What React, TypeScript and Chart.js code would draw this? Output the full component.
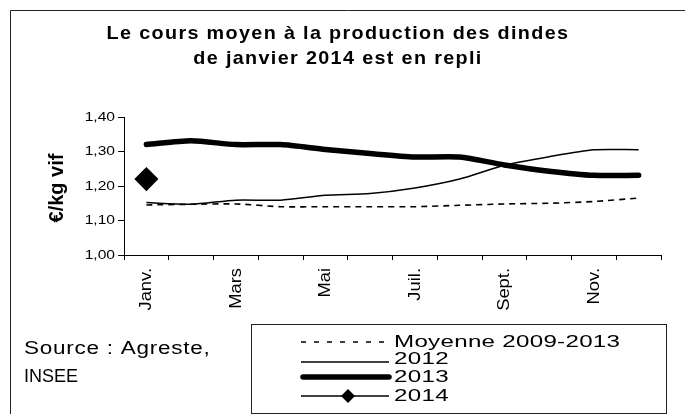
import React, { useEffect, useRef } from "react";
import { Chart, registerables } from "chart.js";

Chart.register(...registerables);

const months = ["Janv.", "Févr.", "Mars", "Avr.", "Mai", "Juin", "Juil.", "Août", "Sept.", "Oct.", "Nov.", "Déc."];
const moyenne = [1.145, 1.147, 1.148, 1.14, 1.14, 1.14, 1.14, 1.144, 1.148, 1.15, 1.155, 1.165];
const y2012 = [1.152, 1.147, 1.159, 1.159, 1.173, 1.178, 1.194, 1.22, 1.26, 1.285, 1.305, 1.305];
const y2013 = [1.32, 1.331, 1.32, 1.32, 1.306, 1.294, 1.284, 1.284, 1.261, 1.243, 1.231, 1.231];
const y2014 = [1.22, null, null, null, null, null, null, null, null, null, null, null];
const seriesNames = ["Moyenne 2009-2013", "2012", "2013", "2014"];
const titleLines = ["Le cours moyen à la production des dindes", "de janvier 2014 est en repli"];
const yTitle = "€/kg vif";
const sourceLines = ["Source : Agreste,", "INSEE"];

const FONT = "'Liberation Sans', Arial, sans-serif";

function txt(ctx: CanvasRenderingContext2D, s: string, x: number, y: number, o: any) {
  ctx.save();
  ctx.translate(x, y);
  if (o.rot) ctx.rotate(o.rot);
  ctx.scale(o.sx || 1, 1);
  ctx.font = o.font;
  (ctx as any).letterSpacing = (o.ls || 0) + "px";
  ctx.textAlign = o.align || "left";
  ctx.textBaseline = o.baseline || "alphabetic";
  ctx.fillStyle = o.color || "#000";
  ctx.fillText(s, 0, 0);
  ctx.restore();
}

const decorPlugin = {
  id: "decor",
  afterDraw(chart: any) {
    const ctx: CanvasRenderingContext2D = chart.ctx;
    const xs = chart.scales.x;
    const ys = chart.scales.y;
    // frame (top and left only visible)
    ctx.save();
    ctx.strokeStyle = "#222";
    ctx.lineWidth = 1;
    ctx.beginPath();
    ctx.moveTo(10.5, 414);
    ctx.lineTo(10.5, 10.5);
    ctx.lineTo(685, 10.5);
    ctx.stroke();
    ctx.restore();

    // title
    txt(ctx, titleLines[0], 338, 39, { font: `bold 19px ${FONT}`, sx: 1.04, ls: 1.3, align: "center" });
    txt(ctx, titleLines[1], 338, 64, { font: `bold 19px ${FONT}`, sx: 1.04, ls: 1.3, align: "center" });

    // y title
    txt(ctx, yTitle, 57, 188, { font: `bold 20px ${FONT}`, rot: -Math.PI / 2, sx: 1.0, align: "center", baseline: "middle" });

    // y ticks
    ys.ticks.forEach((t: any) => {
      const py = ys.getPixelForValue(t.value);
      txt(ctx, t.value.toFixed(2).replace(".", ","), 115, py, { font: `13px ${FONT}`, sx: 1.2, align: "right", baseline: "middle" });
    });

    // x ticks (every other month)
    months.forEach((m, i) => {
      if (i % 2 !== 0) return;
      const px = xs.getPixelForValue(i);
      txt(ctx, m, px, 268, { font: `17px ${FONT}`, rot: -Math.PI / 2, sx: 1.08, align: "right", baseline: "middle" });
    });

    // source
    txt(ctx, sourceLines[0], 24, 354, { font: `18px ${FONT}`, sx: 1.25, ls: 0.6 });
    txt(ctx, sourceLines[1], 24, 382, { font: `18px ${FONT}`, sx: 1.0 });

    // legend box
    ctx.save();
    ctx.strokeStyle = "#222";
    ctx.lineWidth = 1;
    ctx.strokeRect(251.5, 324.5, 415, 89);
    const ds = chart.data.datasets;
    const rows = [342, 362, 377, 396];
    const textY = [347, 364, 382, 401];
    ds.forEach((d: any, i: number) => {
      const y = rows[i];
      ctx.save();
      ctx.strokeStyle = d.borderColor;
      ctx.lineWidth = d.borderWidth;
      ctx.setLineDash(i === 0 ? [5, 8] : []);
      ctx.lineCap = i === 2 ? "round" : "butt";
      ctx.beginPath();
      ctx.moveTo(i === 2 ? 303 : 301, y);
      ctx.lineTo(389, y);
      ctx.stroke();
      ctx.restore();
      if (i === 3) {
        ctx.save();
        ctx.fillStyle = "#000";
        ctx.beginPath();
        ctx.moveTo(348 - 7, y);
        ctx.lineTo(348, y - 7);
        ctx.lineTo(348 + 7, y);
        ctx.lineTo(348, y + 7);
        ctx.closePath();
        ctx.fill();
        ctx.restore();
      }
      txt(ctx, d.label, 394, textY[i], { font: `17px ${FONT}`, sx: 1.42, ls: 0.2 });
    });
    ctx.restore();
  },
};

export default function App() {
  const ref = useRef<HTMLCanvasElement>(null);
  useEffect(() => {
    if (!ref.current) return;
    const chart = new Chart(ref.current, {
      type: "line",
      data: {
        labels: months,
        datasets: [
          {
            label: seriesNames[0],
            data: moyenne,
            borderColor: "#000",
            borderWidth: 1.6,
            borderDash: [6, 5],
            pointRadius: 0,
            tension: 0.25,
          },
          {
            label: seriesNames[1],
            data: y2012,
            borderColor: "#000",
            borderWidth: 1.5,
            pointRadius: 0,
            tension: 0.25,
          },
          {
            label: seriesNames[2],
            data: y2013,
            borderColor: "#000",
            borderWidth: 5.5,
            borderCapStyle: "round",
            borderJoinStyle: "round",
            pointRadius: 0,
            tension: 0.25,
          },
          {
            label: seriesNames[3],
            data: y2014,
            borderColor: "#000",
            backgroundColor: "#000",
            borderWidth: 1.5,
            pointStyle: "rectRot",
            pointRadius: 11,
            pointBackgroundColor: "#000",
            pointBorderColor: "#000",
          },
        ],
      },
      options: {
        animation: false,
        responsive: true,
        maintainAspectRatio: false,
        layout: { padding: { left: 0, top: 117, right: 24, bottom: 0 } },
        plugins: { legend: { display: false }, tooltip: { enabled: false }, title: { display: false } },
        events: [],
        scales: {
          x: {
            type: "category",
            offset: true,
            grid: { offset: true, drawOnChartArea: false, tickLength: 5, color: "#000", lineWidth: 1 },
            border: { color: "#000", width: 1 },
            ticks: { display: false, autoSkip: false },
            afterFit: (s: any) => {
              s.height = 159;
            },
          },
          y: {
            min: 1,
            max: 1.4,
            grid: { drawOnChartArea: false, tickLength: 6, color: "#000", lineWidth: 1 },
            border: { color: "#000", width: 1 },
            ticks: { display: false, stepSize: 0.1 },
            afterFit: (s: any) => {
              s.width = 124;
            },
          },
        },
      },
      plugins: [decorPlugin],
    } as any);
    return () => chart.destroy();
  }, []);
  return (
    <div style={{ position: "absolute", left: 0, top: 0, width: 685, height: 414, background: "#fff" }}>
      <canvas ref={ref} />
    </div>
  );
}
